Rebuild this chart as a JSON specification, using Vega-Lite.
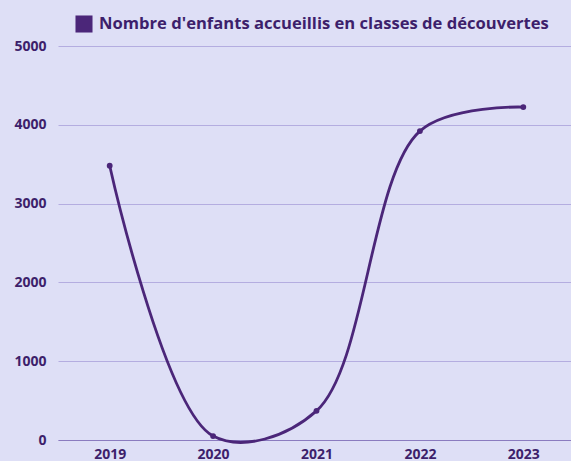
{
  "$schema": "https://vega.github.io/schema/vega-lite/v6.json",
  "width": 517,
  "height": 394,
  "autosize": "none",
  "padding": {"left": 58, "top": 46, "right": 0, "bottom": 21},
  "background": "#dedff6",
  "config": {
    "view": {"stroke": null},
    "font": "Open Sans"
  },
  "data": {
    "values": [
      {"year": "2019", "value": 3480, "series": "Nombre d'enfants accueillis en classes de découvertes"},
      {"year": "2020", "value": 50, "series": "Nombre d'enfants accueillis en classes de découvertes"},
      {"year": "2021", "value": 370, "series": "Nombre d'enfants accueillis en classes de découvertes"},
      {"year": "2022", "value": 3920, "series": "Nombre d'enfants accueillis en classes de découvertes"},
      {"year": "2023", "value": 4225, "series": "Nombre d'enfants accueillis en classes de découvertes"}
    ]
  },
  "encoding": {
    "x": {
      "field": "year", "type": "ordinal",
      "scale": {"type": "point", "padding": 0.5},
      "axis": {
        "title": null, "labelAngle": 0, "ticks": false, "domain": true,
        "domainColor": "#8a7bbf", "grid": false,
        "labelFont": "Open Sans", "labelFontWeight": "bold", "labelFontSize": 14,
        "labelColor": "#3d1f6b", "labelPadding": 7
      }
    },
    "y": {
      "field": "value", "type": "quantitative",
      "scale": {"domain": [0, 5000], "nice": false},
      "axis": {
        "title": null, "values": [0, 1000, 2000, 3000, 4000, 5000], "format": "d",
        "ticks": false, "domain": false, "gridColor": "#b4ade0", "gridWidth": 1,
        "labelFont": "Open Sans", "labelFontWeight": "bold", "labelFontSize": 14,
        "labelColor": "#3d1f6b", "labelPadding": 12
      }
    },
    "color": {
      "field": "series", "type": "nominal",
      "scale": {"range": ["#4b2679"]},
      "legend": {
        "title": null, "orient": "none", "legendX": 17, "legendY": -31,
        "symbolType": "square", "symbolSize": 290, "symbolStrokeWidth": 0,
        "labelFont": "Open Sans", "labelFontWeight": "bold", "labelFontSize": 16.6,
        "labelColor": "#3d1f6b", "labelLimit": 600, "labelOffset": 6
      }
    }
  },
  "layer": [
    {"mark": {"type": "line", "interpolate": "catmull-rom", "strokeWidth": 2.8}},
    {"mark": {"type": "point", "filled": true, "size": 34, "opacity": 1}}
  ]
}
